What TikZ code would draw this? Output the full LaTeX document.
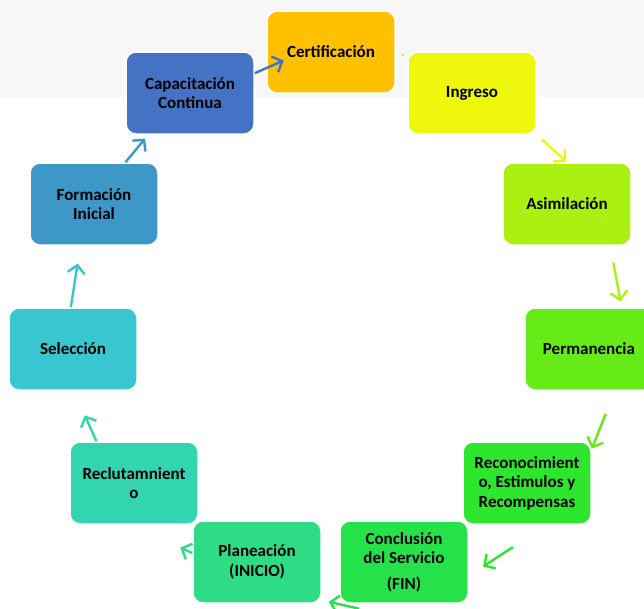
\documentclass[tikz,border=0pt]{standalone}
\usepackage{fontspec}
\setmainfont{Carlito}
\usetikzlibrary{arrows.meta}

\definecolor{fondo}{HTML}{F7F7F7}
\definecolor{certcol}{HTML}{FFC000}
\definecolor{ingcol}{HTML}{EFF70C}
\definecolor{asimcol}{HTML}{AAF010}
\definecolor{permcol}{HTML}{66EB19}
\definecolor{reccol}{HTML}{2DE62D}
\definecolor{conccol}{HTML}{26E24A}
\definecolor{plancol}{HTML}{2FDC86}
\definecolor{reclcol}{HTML}{33D5B0}
\definecolor{selcol}{HTML}{38C6D0}
\definecolor{formcol}{HTML}{3D98C8}
\definecolor{capcol}{HTML}{4472C4}

\begin{document}
\begin{tikzpicture}[
    x=1pt, y=1pt,
    font=\fontsize{17}{19.5}\selectfont\bfseries,
    etapa/.style={
        draw=white,
        line width=1.5pt,
        rounded corners=10pt,
        minimum width=128pt,
        minimum height=82pt,
        align=center,
        fill=#1
    },
    flecha/.style={
        draw=#1,
        line width=2.4pt,
        -{Straight Barb[length=8pt,width=17pt]}
    }
]
    \useasboundingbox (0,0) rectangle (644,-608);
    \clip (0,0) rectangle (644,-608);
    \fill[fondo] (0,0) rectangle (644,-97);

    % etapas del ciclo
    \node[etapa=certcol] (cert) at (331,-52) {Certificación};
    \node[etapa=ingcol] (ing) at (472,-93) {Ingreso};
    \node[etapa=asimcol] (asim) at (567,-204) {Asimilación};
    \node[etapa=permcol] (perm) at (589,-349) {Permanencia};
    \node[etapa=reccol] (rec) at (527,-483)
        {Reconocimient\\o, Estimulos y\\Recompensas};
    \node[etapa=conccol] (conc) at (404,-562)
        {Conclusión\\del Servicio\\[6pt](FIN)};
    \node[etapa=plancol] (plan) at (257,-562) {Planeación\\(INICIO)};
    \node[etapa=reclcol] (recl) at (134,-483) {Reclutamnient\\o};
    \node[etapa=selcol] (sel) at (73,-349) {Selección};
    \node[etapa=formcol] (form) at (94,-204) {Formación\\Inicial};
    \node[etapa=capcol] (cap) at (190,-93) {Capacitación\\Continua};

    % flechas
    \draw[flecha=capcol, shorten >=-19pt] (cap.17) -- (cert.194);
    \draw[draw=certcol, line width=2pt, shorten <=9pt, shorten >=5pt]
        (cert.-8) -- (ing.north west);
    \draw[flecha=ingcol, shorten <=7pt, shorten >=1pt] (ing.south east) -- (asim.north);
    \draw[flecha=asimcol, shorten <=17pt, shorten >=6pt] (asim.-44) -- (perm.52);
    \draw[flecha=permcol, shorten <=25pt] (perm.-58) -- (rec.28);
    \draw[flecha=reccol, shorten <=41pt, shorten >=17pt] (rec.-64) -- (conc.-12);
    \draw[flecha=conccol] ([xshift=20pt,yshift=-5pt]conc.south west)
        -- ([xshift=7pt,yshift=2pt]plan.south east);
    \draw[flecha=plancol, shorten >=57pt] (plan.172) -- (recl.-98);
    \draw[flecha=reclcol, shorten >=27pt] (recl.132) -- (sel.-89);
    \draw[flecha=selcol, shorten >=18pt] (sel.93) -- (form.-108);
    \draw[flecha=formcol, shorten >=5pt] (form.53) -- (cap.-135);
\end{tikzpicture}
\end{document}
